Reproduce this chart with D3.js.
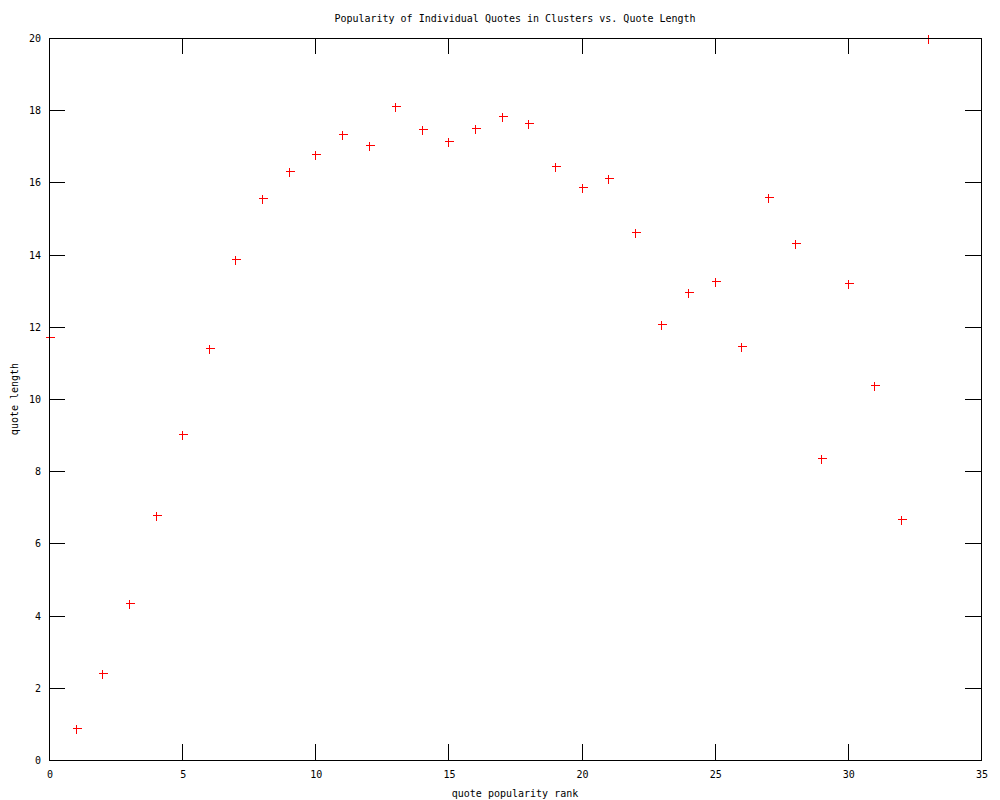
<!DOCTYPE html>
<html>
<head>
<meta charset="utf-8">
<script src="https://cdn.jsdelivr.net/npm/d3@7"></script>
<style>
  body { margin: 0; background: #fff; }
  text { font-family: "DejaVu Sans Mono", monospace; font-size: 10px; fill: #000; }
</style>
</head>
<body>
<svg id="chart"></svg>
<script>
const rank = [0, 1, 2, 3, 4, 5, 6, 7, 8, 9, 10, 11, 12, 13, 14, 15, 16,
  17, 18, 19, 20, 21, 22, 23, 24, 25, 26, 27, 28, 29, 30, 31, 32, 33];
const quoteLength = [11.72, 0.89, 2.41, 4.35, 6.79, 9.03, 11.41, 13.88, 15.57, 16.32, 16.79, 17.34, 17.04,
  18.12, 17.48, 17.15, 17.51, 17.84, 17.65, 16.45, 15.87, 16.12, 14.63, 12.08, 12.96,
  13.27, 11.47, 15.60, 14.32, 8.37, 13.21, 10.39, 6.68, 20.0];
const xTicks = [0, 5, 10, 15, 20, 25, 30, 35];
const yTicks = [0, 2, 4, 6, 8, 10, 12, 14, 16, 18, 20];

const width = 1000, height = 800;
const plotLeft = 49, plotRight = 981, plotTop = 38, plotBottom = 760;
const tickLen = 16;
const cross = 4;

const svg = d3.select("#chart")
  .attr("width", width)
  .attr("height", height);

const x = d3.scaleLinear().domain([0, 35]).range([plotLeft, plotRight]);
const y = d3.scaleLinear().domain([0, 20]).range([plotBottom, plotTop]);

// points
const pts = svg.append("g")
  .attr("stroke", "#ff0000")
  .attr("stroke-width", 1)
  .attr("shape-rendering", "crispEdges");

rank.forEach((r, i) => {
  const px = Math.round(x(r)) + 0.5, py = Math.round(y(quoteLength[i])) + 0.5;
  pts.append("line").attr("x1", px - cross).attr("x2", px + cross + 1).attr("y1", py).attr("y2", py);
  pts.append("line").attr("x1", px).attr("x2", px).attr("y1", py - cross).attr("y2", py + cross + 1);
});

// ticks (mirrored on all sides)
const tk = svg.append("g")
  .attr("stroke", "#000")
  .attr("stroke-width", 1)
  .attr("shape-rendering", "crispEdges");

xTicks.forEach(t => {
  const px = Math.round(x(t)) + 0.5;
  tk.append("line").attr("x1", px).attr("x2", px).attr("y1", plotBottom).attr("y2", plotBottom - tickLen);
  tk.append("line").attr("x1", px).attr("x2", px).attr("y1", plotTop).attr("y2", plotTop + tickLen);
});
yTicks.forEach(t => {
  const py = Math.round(y(t)) + 0.5;
  tk.append("line").attr("x1", plotLeft).attr("x2", plotLeft + tickLen).attr("y1", py).attr("y2", py);
  tk.append("line").attr("x1", plotRight).attr("x2", plotRight - tickLen).attr("y1", py).attr("y2", py);
});

// border
svg.append("rect")
  .attr("x", plotLeft + 0.5).attr("y", plotTop + 0.5)
  .attr("width", plotRight - plotLeft).attr("height", plotBottom - plotTop)
  .attr("fill", "none")
  .attr("stroke", "#000")
  .attr("stroke-width", 1)
  .attr("shape-rendering", "crispEdges");

// tick labels
svg.append("g").selectAll("text")
  .data(xTicks).enter().append("text")
  .attr("x", d => x(d) + 1)
  .attr("y", 778)
  .attr("text-anchor", "middle")
  .text(d => d);

svg.append("g").selectAll("text")
  .data(yTicks).enter().append("text")
  .attr("x", 41)
  .attr("y", d => y(d) + 4)
  .attr("text-anchor", "end")
  .text(d => d);

// titles
svg.append("text")
  .attr("x", 515).attr("y", 22)
  .attr("text-anchor", "middle")
  .text("Popularity of Individual Quotes in Clusters vs. Quote Length");

svg.append("text")
  .attr("x", 515).attr("y", 797)
  .attr("text-anchor", "middle")
  .text("quote popularity rank");

svg.append("text")
  .attr("transform", "translate(18,399) rotate(-90)")
  .attr("text-anchor", "middle")
  .text("quote length");
</script>
</body>
</html>
